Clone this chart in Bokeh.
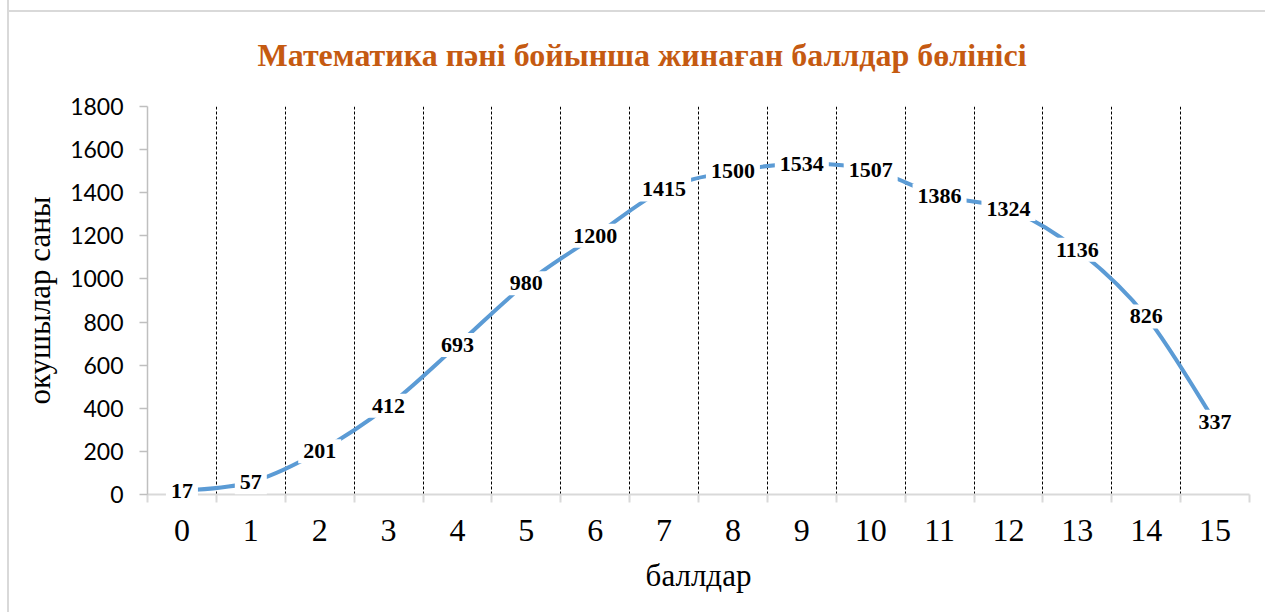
from bokeh.plotting import figure
from bokeh.models import FixedTicker, Range1d, ColumnDataSource
from bokeh.core.properties import value
from bokeh.embed import file_html
from bokeh.resources import INLINE

scores = list(range(16))
counts = [17, 57, 201, 412, 693, 980, 1200, 1415, 1500, 1534, 1507, 1386, 1324, 1136, 826, 337]
y_ticks = [0, 200, 400, 600, 800, 1000, 1200, 1400, 1600, 1800]
title_text = "Математика пәні бойынша жинаған баллдар бөлінісі"
x_label = "баллдар"
y_label = "окушылар саны"

p = figure(width=1258, height=612,
           x_range=Range1d(-0.5, len(scores) - 0.5), y_range=Range1d(0, 1800),
           output_backend="svg", toolbar_location=None,
           min_border_left=138, min_border_top=106, min_border_right=18, min_border_bottom=118)
p.outline_line_color = None
p.border_fill_color = None
p.background_fill_color = "white"
p.styles = {"border-left": "2px solid #D9D9D9",
            "margin-left": "7px", "margin-top": "0px",
            "background": "linear-gradient(#D9D9D9, #D9D9D9) 0px 10px / 100% 2px no-repeat, white"}

# title
p.title.text = title_text
p.title.text_font = "Liberation Serif"
p.title.text_font_size = "32px"
p.title.text_font_style = "bold"
p.title.text_color = "#C55A11"
p.title.align = "left"
p.title.offset = 110
p.title.standoff = 67

# smoothed line (Catmull-Rom -> Bezier, from data)
n = len(counts)
def pt(i):
    i = max(0, min(n - 1, i))
    return scores[i], counts[i]
bx0, by0, bx1, by1, cx0, cy0, cx1, cy1 = [], [], [], [], [], [], [], []
for i in range(n - 1):
    xa_, ya_ = pt(i)
    xb_, yb_ = pt(i + 1)
    xm_, ym_ = pt(i - 1)
    xp_, yp_ = pt(i + 2)
    bx0.append(xa_); by0.append(ya_); bx1.append(xb_); by1.append(yb_)
    cx0.append(xa_ + (xb_ - xm_) / 6); cy0.append(ya_ + (yb_ - ym_) / 6)
    cx1.append(xb_ - (xp_ - xa_) / 6); cy1.append(yb_ - (yp_ - ya_) / 6)
p.bezier(x0=bx0, y0=by0, x1=bx1, y1=by1, cx0=cx0, cy0=cy0, cx1=cx1, cy1=cy1,
         line_color="#5B9BD5", line_width=4)

src = ColumnDataSource(dict(x=scores, y=counts, lab=[str(c) for c in counts]))
p.text(x="x", y="y", text="lab", source=src,
       text_font=value("Liberation Serif"), text_font_style="bold", text_font_size="22px",
       text_color="black", text_align="center", text_baseline="middle",
       background_fill_color="white", padding=5, level="annotation")

# grids
p.ygrid.grid_line_color = None
p.xgrid.ticker = FixedTicker(ticks=[s + 0.5 for s in scores])
p.xgrid.grid_line_color = "black"
p.xgrid.grid_line_dash = "3 2"
p.xgrid.grid_line_width = 1

# y axis
ya = p.yaxis[0]
ya.ticker = FixedTicker(ticks=y_ticks)
ya.axis_line_color = "#BFBFBF"
ya.axis_line_width = 1.5
ya.major_tick_line_color = "#BFBFBF"
ya.major_tick_line_width = 1.5
ya.major_tick_out = 8
ya.major_tick_in = 0
ya.minor_tick_line_color = None
ya.major_label_text_font = "Lato"
ya.major_label_text_font_size = "23px"
ya.major_label_text_color = "black"
ya.major_label_standoff = 16
ya.axis_label = y_label
ya.axis_label_text_font = "Liberation Serif"
ya.axis_label_text_font_size = "31px"
ya.axis_label_text_font_style = "normal"
ya.axis_label_text_color = "black"
ya.axis_label_standoff = 10

# x axis: labels at category centres, tick marks at category boundaries
xa = p.xaxis[0]
xa.ticker = FixedTicker(ticks=scores,
                        minor_ticks=[s - 0.5 for s in scores] + [scores[-1] + 0.5])
xa.axis_line_color = "#D9D9D9"
xa.axis_line_width = 2
xa.major_tick_line_color = None
xa.major_tick_out = 0
xa.major_tick_in = 0
xa.minor_tick_line_color = "#D9D9D9"
xa.minor_tick_line_width = 2
xa.minor_tick_out = 8
xa.minor_tick_in = 0
xa.major_label_text_font = "Liberation Serif"
xa.major_label_text_font_size = "32px"
xa.major_label_text_color = "black"
xa.major_label_standoff = 17
xa.axis_label = x_label
xa.axis_label_text_font = "Liberation Serif"
xa.axis_label_text_font_size = "31px"
xa.axis_label_text_font_style = "normal"
xa.axis_label_text_color = "black"
xa.axis_label_standoff = 14

open("out.html", "w", encoding="utf-8").write(file_html(p, INLINE))
